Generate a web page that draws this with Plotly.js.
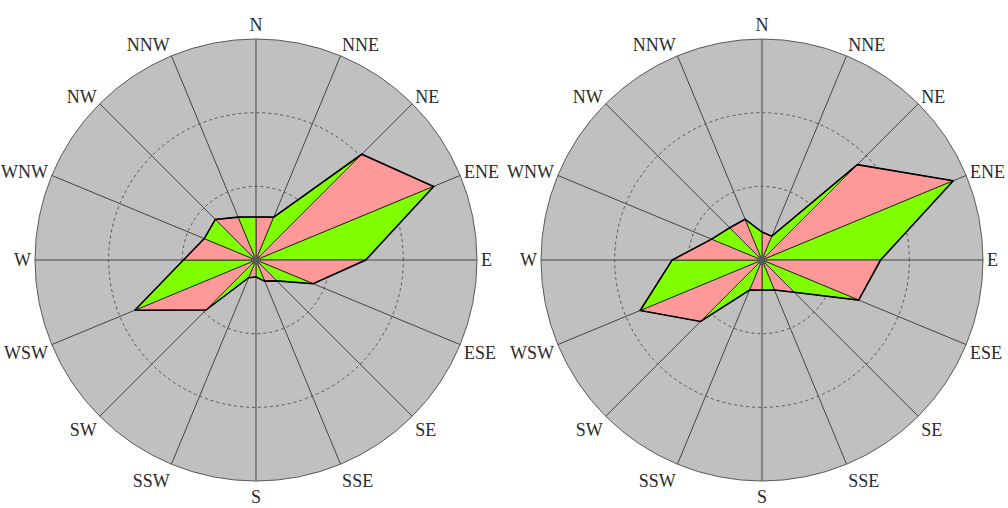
<!DOCTYPE html>
<html>
<head>
<meta charset="utf-8">
<script src="https://cdn.plot.ly/plotly-3.0.1.min.js"></script>
<style>
html,body{margin:0;padding:0;background:#fff;}
#chart{width:1008px;height:508px;}
</style>
</head>
<body>
<div id="chart"></div>
<script>
// Wind directions (angular categories)
const directions = ['N','NNE','NE','ENE','E','ESE','SE','SSE','S','SSW','SW','WSW','W','WNW','NW','NNW'];
// Left rose values (ring units)
const leftValues = [0.585, 0.63, 2.03, 2.61, 1.49, 0.84, 0.40, 0.31, 0.23, 0.26, 0.96, 1.78, 0.985, 0.76, 0.78, 0.63];
// Right rose values
const rightValues = [0.38, 0.35, 1.83, 2.81, 1.61, 1.42, 0.62, 0.44, 0.41, 0.44, 1.18, 1.79, 1.22, 0.74, 0.62, 0.60];
// Alternating wedge fill colours
const wedgeColors = ['#ff9999', '#80ff00'];

function roseTraces(values, subplot) {
  const traces = [];
  const n = directions.length;
  for (let i = 0; i < n; i++) {
    const j = (i + 1) % n;
    traces.push({
      type: 'scatterpolar', subplot: subplot,
      r: [0, values[i], values[j], 0],
      theta: [directions[i], directions[i], directions[j], directions[i]],
      mode: 'lines', fill: 'toself', fillcolor: wedgeColors[i % 2],
      line: {color: '#1a1a1a', width: 0.8},
      hoverinfo: 'skip', showlegend: false
    });
  }
  traces.push({
    type: 'scatterpolar', subplot: subplot,
    r: values.concat([values[0]]),
    theta: directions.concat([directions[0]]),
    mode: 'lines', line: {color: '#000', width: 1.6},
    hoverinfo: 'skip', showlegend: false
  });
  traces.push({
    type: 'scatterpolar', subplot: subplot,
    r: [0], theta: [directions[0]], mode: 'markers',
    marker: {size: 9, color: '#5a5a5a'},
    hoverinfo: 'skip', showlegend: false
  });
  return traces;
}

function polarLayout(xdom) {
  return {
    domain: {x: xdom, y: [0.0531, 0.9232]},
    bgcolor: '#c0c0c0',
    angularaxis: {
      type: 'category', rotation: 90, direction: 'clockwise',
      categoryorder: 'array', categoryarray: directions,
      showgrid: true, gridcolor: '#454545', gridwidth: 1,
      showline: true, linecolor: '#5a5a5a', linewidth: 1,
      ticks: '', tickfont: {family: 'Liberation Serif', size: 18, color: '#2a2a2a'}
    },
    radialaxis: {
      range: [0, 3], tick0: 0, dtick: 1,
      showticklabels: false, ticks: '', showline: false,
      gridcolor: '#555555', gridwidth: 1, griddash: 'dot'
    }
  };
}

const data = roseTraces(leftValues, 'polar').concat(roseTraces(rightValues, 'polar2'));
const layout = {
  width: 1008, height: 508,
  margin: {l: 0, r: 0, t: 0, b: 0},
  paper_bgcolor: '#fff',
  showlegend: false,
  polar: polarLayout([0.0347, 0.4732]),
  polar2: polarLayout([0.5367, 0.9752])
};
Plotly.newPlot('chart', data, layout, {displayModeBar: false, staticPlot: true});
</script>
</body>
</html>
